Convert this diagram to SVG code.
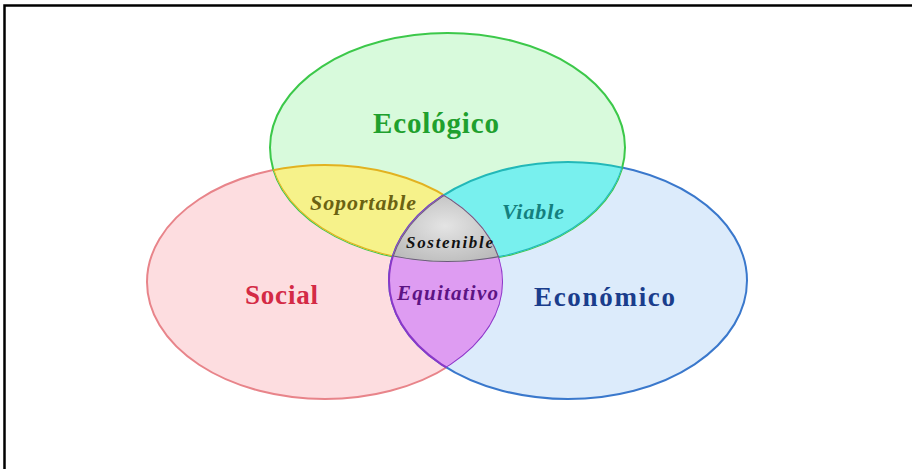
<svg xmlns="http://www.w3.org/2000/svg" width="918" height="469" viewBox="0 0 918 469">
<style>
.lbl{font-family:"Liberation Serif","DejaVu Serif",serif;font-weight:bold;text-anchor:middle}
.it{font-style:italic}
</style>
<defs>
<clipPath id="cE"><ellipse cx="447.5" cy="147.5" rx="177.5" ry="114.5"/></clipPath>
<clipPath id="cS"><ellipse cx="325" cy="282" rx="178" ry="117"/></clipPath>
<clipPath id="cB"><ellipse cx="568" cy="280.5" rx="179" ry="118.5"/></clipPath>
<radialGradient id="gG" cx="0.5" cy="0.45" r="0.6"><stop offset="0" stop-color="#e4e4e4"/><stop offset="1" stop-color="#b4b4b4"/></radialGradient>
</defs>
<rect width="918" height="469" fill="#fff"/>
<path d="M4.5 469 V5.5 H912" fill="none" stroke="#000" stroke-width="2.5"/>
<g id="social"><ellipse cx="325" cy="282" rx="178" ry="117" fill="#fddde0" stroke="#e8848a" stroke-width="2"/></g>
<g id="economico"><ellipse cx="568" cy="280.5" rx="179" ry="118.5" fill="#dcebfb" stroke="#3a78cc" stroke-width="2"/></g>
<g id="ecologico"><ellipse cx="447.5" cy="147.5" rx="177.5" ry="114.5" fill="#d8fadc" stroke="#3cc84a" stroke-width="2"/></g>
<g id="soportable" clip-path="url(#cE)">
<ellipse cx="325" cy="282" rx="178" ry="117" fill="#f6f28a" stroke="#e2b220" stroke-width="2"/>
<g clip-path="url(#cS)"><ellipse cx="447.5" cy="147.5" rx="177.5" ry="114.5" fill="none" stroke="#e2b220" stroke-width="2"/></g>
</g>
<g id="viable" clip-path="url(#cE)">
<ellipse cx="568" cy="280.5" rx="179" ry="118.5" fill="#78f0ee" stroke="#22b8b8" stroke-width="2"/>
<g clip-path="url(#cB)"><ellipse cx="447.5" cy="147.5" rx="177.5" ry="114.5" fill="none" stroke="#22b8b8" stroke-width="2"/></g>
</g>
<g id="equitativo" clip-path="url(#cS)">
<ellipse cx="568" cy="280.5" rx="179" ry="118.5" fill="#de9cf2" stroke="#8a38c8" stroke-width="2"/>
<g clip-path="url(#cB)"><ellipse cx="325" cy="282" rx="178" ry="117" fill="none" stroke="#8a38c8" stroke-width="2"/></g>
</g>
<g id="sostenible" clip-path="url(#cE)"><g clip-path="url(#cS)"><g clip-path="url(#cB)">
<rect x="380" y="190" width="130" height="80" fill="url(#gG)"/>
<ellipse cx="325" cy="282" rx="178" ry="117" fill="none" stroke="#6a5a7a" stroke-width="2"/>
<ellipse cx="568" cy="280.5" rx="179" ry="118.5" fill="none" stroke="#6a5a7a" stroke-width="2"/>
<ellipse cx="447.5" cy="147.5" rx="177.5" ry="114.5" fill="none" stroke="#6a5a7a" stroke-width="2"/>
</g></g></g>
<g id="labels">
<text class="lbl" x="436" y="133" font-size="29" fill="#1fa02e" textLength="126" lengthAdjust="spacing">Ecológico</text>
<text class="lbl" x="281.5" y="304" font-size="27" fill="#d42a45" textLength="73" lengthAdjust="spacing">Social</text>
<text class="lbl" x="604.5" y="306" font-size="27" fill="#1a3d8c" textLength="141" lengthAdjust="spacing">Económico</text>
<text class="lbl it" x="363" y="210" font-size="22" fill="#6b6212" textLength="106" lengthAdjust="spacing">Soportable</text>
<text class="lbl it" x="533" y="219" font-size="22" fill="#14807e" textLength="62" lengthAdjust="spacing">Viable</text>
<text class="lbl it" x="449.5" y="248" font-size="17" fill="#111" textLength="87" lengthAdjust="spacing">Sostenible</text>
<text class="lbl it" x="447.5" y="300" font-size="21" fill="#5c1484" textLength="101" lengthAdjust="spacing">Equitativo</text>
</g>
</svg>
